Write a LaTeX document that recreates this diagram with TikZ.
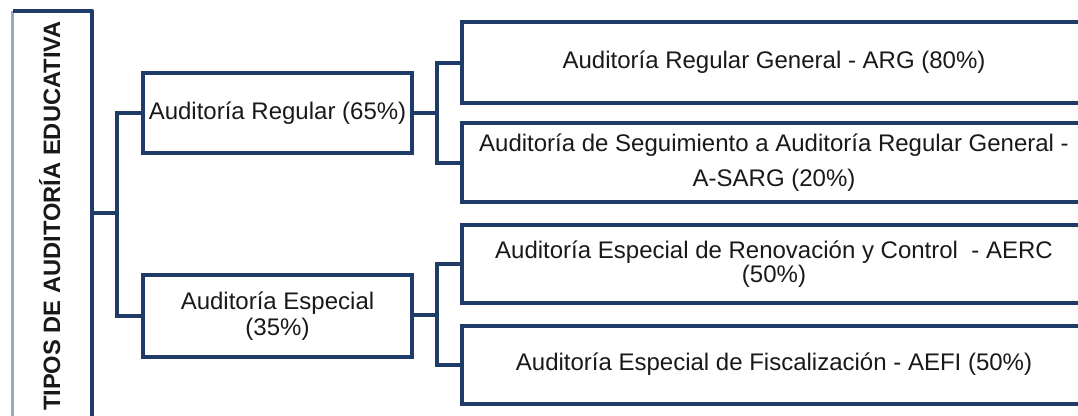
\documentclass[tikz,border=0pt]{standalone}
\usepackage{fontspec}
\setmainfont{Liberation Sans}
\definecolor{navy}{RGB}{31,59,104}
\definecolor{paleedge}{RGB}{150,170,200}
\definecolor{ink}{RGB}{25,25,25}
\begin{document}
\begin{tikzpicture}[x=1pt,y=-1pt,
  box/.style={draw=navy,line width=4pt,rectangle,inner sep=0pt,text=ink,align=center},
  conn/.style={draw=navy,line width=4pt},
  txt/.style={font=\fontsize{24}{26}\selectfont}]
\useasboundingbox (0,0) rectangle (1078,415);
\clip (0,0) rectangle (1078,415);
% root
\node[minimum width=79pt,minimum height=429pt,inner sep=0pt] (root) at (52.5,225.5) {};
\draw[paleedge,line width=3pt] (root.south west) -- (root.north west);
\draw[conn,line join=round] (root.north west) -- (root.north east) -- (root.south east);
\node[rotate=90,anchor=base,text=ink,inner sep=0pt,font=\bfseries\fontsize{23.7}{26}\selectfont] (roottxt) at (60,216) {TIPOS DE AUDITORÍA EDUCATIVA};
% level 1
\node[box,txt,minimum width=269pt,minimum height=80pt] (ar) at (277.5,113) {Auditoría Regular (65\%)};
\node[box,txt,minimum width=269pt,minimum height=82pt] (ae) at (277.5,316) {Auditoría Especial\\(35\%)};
% level 2
\node[box,minimum width=624pt,minimum height=81pt,font=\fontsize{24}{26}\selectfont] (r1) at (774,62.5) {Auditoría Regular General - ARG (80\%)};
\node[box,minimum width=624pt,minimum height=79pt,font=\fontsize{24}{35}\selectfont] (r2) at (774,162.5) {Auditoría de Seguimiento a Auditoría Regular General -\\A-SARG (20\%)};
\node[box,minimum width=624pt,minimum height=78pt,font=\fontsize{24}{22}\selectfont] (r3) at (774,264) {Auditoría Especial de Renovación y Control~~- AERC\\(50\%)};
\node[box,minimum width=624pt,minimum height=78pt,font=\fontsize{24}{26}\selectfont] (r4) at (774,364.5) {Auditoría Especial de Fiscalización - AEFI (50\%)};
% junctions
\coordinate (j0) at (117,213);
\coordinate (j1) at (437,113);
\coordinate (j2) at (437,315);
\draw[conn] (root.east |- j0) -- (j0);
\draw[conn] (ar.west) -| (j0) |- (ae.west);
\draw[conn] (ar.east) -- (j1);
\draw[conn] (r1.west) -| (j1) |- (r2.west);
\draw[conn] (ae.east |- j2) -- (j2);
\draw[conn] (r3.west) -| (j2) |- (r4.west);
\end{tikzpicture}
\end{document}
